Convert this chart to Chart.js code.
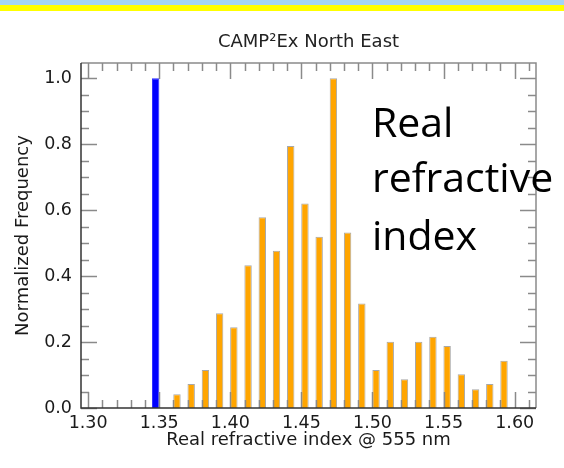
<!DOCTYPE html>
<html>
<head>
<meta charset="utf-8">
<script src="https://cdn.jsdelivr.net/npm/chart.js@4.4.1/dist/chart.umd.min.js"></script>
<style>
  html, body { margin: 0; padding: 0; background: #fff; overflow: hidden; }
  #wrap { width: 564px; height: 468px; position: relative; }
</style>
</head>
<body>
<div id="wrap"><canvas id="c" width="564" height="468"></canvas></div>
<script>
// Histogram of real refractive index, CAMP2Ex North East
const waterBins = [1.3475];
const waterFreq = [1.0];

const aerosolBins = [
  1.3625, 1.3725, 1.3825, 1.3925, 1.4025, 1.4125, 1.4225, 1.4325,
  1.4425, 1.4525, 1.4625, 1.4725, 1.4825, 1.4925, 1.5025, 1.5125,
  1.5225, 1.5325, 1.5425, 1.5525, 1.5625, 1.5725, 1.5825, 1.5925
];
const aerosolFreq = [
  0.042, 0.073, 0.115, 0.287, 0.245, 0.433, 0.578, 0.477,
  0.794, 0.620, 0.519, 1.000, 0.532, 0.317, 0.115, 0.201,
  0.087, 0.201, 0.216, 0.188, 0.102, 0.057, 0.073, 0.143
];

const xTickValues = [1.30, 1.35, 1.40, 1.45, 1.50, 1.55, 1.60];
const yTickValues = [0.0, 0.2, 0.4, 0.6, 0.8, 1.0];
const noteLines = ['Real', 'refractive', 'index'];

const X_MIN = 1.295, X_MAX = 1.615;
const Y_MIN = 0, Y_MAX = 1.046;

const toPoints = (xs, ys) => xs.map((x, i) => ({ x: x, y: ys[i] }));

// Page backdrop: white with the two coloured bands along the top
const backdrop = {
  id: 'backdrop',
  beforeDraw(chart) {
    const ctx = chart.ctx;
    ctx.save();
    ctx.fillStyle = '#ffffff';
    ctx.fillRect(0, 0, chart.width, chart.height);
    ctx.fillStyle = '#a3d5f6';
    ctx.fillRect(0, 0, chart.width, 5);
    ctx.fillStyle = '#ffff00';
    ctx.fillRect(0, 5, chart.width, 6);
    ctx.restore();
  }
};

// Box frame with inward major/minor ticks on all four sides
const frameTicks = {
  id: 'frameTicks',
  afterDatasetsDraw(chart) {
    const { ctx, chartArea: a, scales } = chart;
    const xs = scales.x, ys = scales.y;
    ctx.save();
    ctx.lineWidth = 1.5;
    ctx.strokeStyle = '#8a8a8a';
    ctx.beginPath();
    // x ticks: major every 0.05, minor every 0.01
    for (let k = 130; k <= 161; k++) {
      const v = k / 100;
      if (v < X_MIN || v > X_MAX) continue;
      const px = Math.round(xs.getPixelForValue(v)) + 0.5;
      const len = (k % 5 === 0) ? 16 : 8;
      ctx.moveTo(px, a.bottom); ctx.lineTo(px, a.bottom - len);
      ctx.moveTo(px, a.top); ctx.lineTo(px, a.top + len);
    }
    // y ticks: major every 0.2, minor every 0.05
    for (let k = 0; k <= 20; k++) {
      const v = k * 0.05;
      const py = Math.round(ys.getPixelForValue(v)) + 0.5;
      const len = (k % 4 === 0) ? 16 : 8;
      ctx.moveTo(a.left, py); ctx.lineTo(a.left + len, py);
      ctx.moveTo(a.right, py); ctx.lineTo(a.right - len, py);
    }
    ctx.stroke();

    // frame
    ctx.strokeStyle = '#8a8a8a';
    ctx.beginPath();
    ctx.moveTo(a.left, a.top); ctx.lineTo(a.right, a.top); ctx.lineTo(a.right, a.bottom);
    ctx.stroke();
    ctx.strokeStyle = '#333333';
    ctx.beginPath();
    ctx.moveTo(a.left, a.top); ctx.lineTo(a.left, a.bottom); ctx.lineTo(a.right, a.bottom);
    ctx.stroke();
    ctx.restore();
  }
};

// Large note text on the right of the plot
const note = {
  id: 'note',
  afterDraw(chart) {
    const ctx = chart.ctx;
    ctx.save();
    ctx.fillStyle = '#000000';
    ctx.font = '41px "Open Sans", sans-serif';
    ctx.textAlign = 'left';
    ctx.textBaseline = 'alphabetic';
    const baselines = [137, 192, 250];
    noteLines.forEach((t, i) => ctx.fillText(t, 372, baselines[i]));
    ctx.restore();
  }
};

const FONT = 'DejaVu Sans';

new Chart(document.getElementById('c'), {
  type: 'bar',
  data: {
    datasets: [
      {
        label: 'water',
        data: toPoints(waterBins, waterFreq),
        backgroundColor: '#0000ff',
        borderColor: '#2a2aff',
        borderWidth: 1,
        grouped: false,
        barPercentage: 0.52,
        categoryPercentage: 1.0
      },
      {
        label: 'aerosol',
        data: toPoints(aerosolBins, aerosolFreq),
        backgroundColor: '#ffa500',
        borderColor: '#a8a8a8',
        borderWidth: 1,
        grouped: false,
        barPercentage: 0.52,
        categoryPercentage: 1.0
      }
    ]
  },
  options: {
    responsive: false,
    animation: false,
    devicePixelRatio: 1,
    layout: { padding: { top: 12, right: 28, left: 0, bottom: 0 } },
    plugins: {
      legend: { display: false },
      tooltip: { enabled: false },
      title: {
        display: true,
        text: 'CAMP\u00B2Ex North East',
        fullSize: false,
        color: '#222222',
        font: { family: FONT, size: 18, weight: 'normal' },
        padding: { top: 20, bottom: 9.4 }
      }
    },
    scales: {
      x: {
        type: 'linear',
        min: X_MIN,
        max: X_MAX,
        offset: false,
        grid: { display: false, drawTicks: false },
        border: { display: false },
        afterBuildTicks: (s) => { s.ticks = xTickValues.map(v => ({ value: v })); },
        afterFit: (s) => { s.height = 60; },
        ticks: {
          autoSkip: false,
          maxRotation: 0,
          padding: 5,
          color: '#1a1a1a',
          font: { family: FONT, size: 17.5 },
          callback: (v) => Number(v).toFixed(2)
        },
        title: {
          display: true,
          text: 'Real refractive index @ 555 nm',
          color: '#1a1a1a',
          font: { family: FONT, size: 18 },
          padding: { top: 0, bottom: 17 }
        }
      },
      y: {
        min: Y_MIN,
        max: Y_MAX,
        grid: { display: false, drawTicks: false },
        border: { display: false },
        afterBuildTicks: (s) => { s.ticks = yTickValues.map(v => ({ value: v })); },
        afterFit: (s) => { s.width = 81; },
        ticks: {
          autoSkip: false,
          padding: 9,
          color: '#1a1a1a',
          font: { family: FONT, size: 17.5 },
          callback: (v) => Number(v).toFixed(1)
        },
        title: {
          display: true,
          text: 'Normalized Frequency',
          color: '#1a1a1a',
          font: { family: FONT, size: 18 },
          padding: { top: 13, bottom: 0 }
        }
      }
    }
  },
  plugins: [backdrop, frameTicks, note]
});
</script>
</body>
</html>
